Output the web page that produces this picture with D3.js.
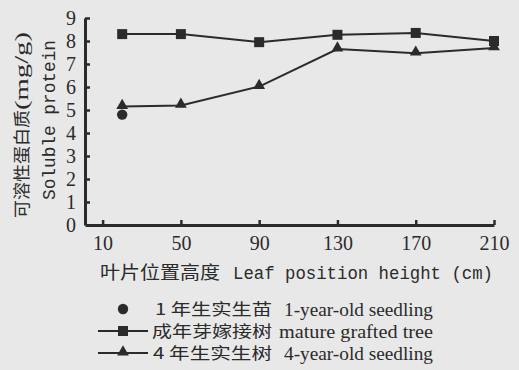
<!DOCTYPE html>
<html><head><meta charset="utf-8">
<script src="https://cdn.jsdelivr.net/npm/d3@7/dist/d3.min.js"></script>
<style>html,body{margin:0;padding:0;background:#e8e8e8;} svg{display:block}</style>
</head><body><svg id="c" width="519" height="370"></svg>
<script>
// ---- data ----
const heights = [20, 50, 90, 130, 170, 210];
const matureGrafted = [8.3, 8.3, 7.95, 8.27, 8.35, 8.0];
const fourYearSeedling = [5.15, 5.2, 6.02, 7.65, 7.47, 7.7];
const oneYearHeights = [20];
const oneYearSeedling = [4.8];
const xTicks = [10, 50, 90, 130, 170, 210];
const yTicks = [0, 1, 2, 3, 4, 5, 6, 7, 8, 9];
const xTitleCN = "叶片位置高度";
const xTitleEN = "Leaf position height (cm)";
const yTitleCN = "可溶性蛋白质";
const yTitleUnit = "(mg/g)";
const yTitleEN = "Soluble protein";
const legendCN = ["1 年生实生苗", "成年芽嫁接树", "4 年生实生树"];
const legendEN = ["1-year-old seedling", "mature grafted tree", "4-year-old seedling"];

// ---- drawing ----
const ink = "#2b2b2b";
const svg = d3.select("#c");
const x = d3.scaleLinear().domain([1, 210]).range([85, 494]);
const y = d3.scaleLinear().domain([0, 9]).range([225, 18]);
const serif = "Liberation Serif";
const mono = "Liberation Mono";
const cjk = "Noto Sans CJK SC";

const gx = svg.append("g").attr("transform", `translate(0,${y(0)})`)
  .call(d3.axisBottom(x).tickValues(xTicks).tickSize(-5).tickSizeOuter(0).tickPadding(11));
const gy = svg.append("g").attr("transform", `translate(${x.range()[0]},0)`)
  .call(d3.axisLeft(y).tickValues(yTicks).tickSize(-5).tickSizeOuter(0).tickPadding(9));
[gx, gy].forEach(g => {
  g.attr("font-family", serif).attr("font-size", 20);
  g.select(".domain").attr("stroke", ink).attr("stroke-width", 3);
  g.selectAll(".tick line").attr("stroke", ink).attr("stroke-width", 2.5);
  g.selectAll(".tick text").attr("fill", ink).attr("font-family", serif).attr("font-size", 20);
});
gy.selectAll(".tick").filter(d => d === 0).select("line").remove();

const line = d3.line().x(d => x(d[0])).y(d => y(d[1]));
const sq = heights.map((h, i) => [h, matureGrafted[i]]);
const tr = heights.map((h, i) => [h, fourYearSeedling[i]]);
const ci = oneYearHeights.map((h, i) => [h, oneYearSeedling[i]]);

[sq, tr].forEach(s => svg.append("path").attr("d", line(s)).attr("fill", "none")
  .attr("stroke", ink).attr("stroke-width", 2));

const symSq = d3.symbol().type(d3.symbolSquare).size(100);
const symTr = d3.symbol().type(d3.symbolTriangle).size(60);
const symCi = d3.symbol().type(d3.symbolCircle).size(85);

svg.selectAll(".ci").data(ci).join("path").attr("d", symCi())
  .attr("transform", d => `translate(${x(d[0])},${y(d[1])})`).attr("fill", ink);
svg.selectAll(".tr").data(tr).join("path").attr("d", symTr())
  .attr("transform", d => `translate(${x(d[0])},${y(d[1]) - 1})`).attr("fill", ink);
svg.selectAll(".sq").data(sq).join("path").attr("d", symSq())
  .attr("transform", d => `translate(${x(d[0])},${y(d[1])})`).attr("fill", ink);

// x title
svg.append("text").attr("x", 100).attr("y", 273).attr("dy", "0.35em")
  .attr("textLength", 120).attr("lengthAdjust", "spacingAndGlyphs")
  .attr("font-family", cjk).attr("font-size", 18).attr("fill", ink).text(xTitleCN);
svg.append("text").attr("x", 233).attr("y", 273).attr("dy", "0.35em")
  .attr("textLength", 260).attr("lengthAdjust", "spacingAndGlyphs")
  .attr("font-family", mono).attr("font-size", 18).attr("fill", ink).text(xTitleEN);

// y titles
const yt1 = svg.append("g").attr("transform", "translate(22,0) rotate(-90)");
yt1.append("text").attr("x", -218).attr("y", 0).attr("dy", "0.35em")
  .attr("textLength", 108).attr("lengthAdjust", "spacingAndGlyphs")
  .attr("font-family", cjk).attr("font-size", 17).attr("fill", ink).text(yTitleCN);
yt1.append("text").attr("x", -110).attr("y", 0).attr("dy", "0.35em")
  .attr("textLength", 78).attr("lengthAdjust", "spacingAndGlyphs")
  .attr("font-family", serif).attr("font-size", 18).attr("fill", ink).text(yTitleUnit);
const yt2 = svg.append("g").attr("transform", "translate(49,0) rotate(-90)");
yt2.append("text").attr("x", -200).attr("y", 0).attr("dy", "0.35em")
  .attr("textLength", 160).attr("lengthAdjust", "spacingAndGlyphs")
  .attr("font-family", mono).attr("font-size", 18).attr("fill", ink).text(yTitleEN);

// legend
const rowsY = [309, 331, 353];
const cnStart = [155, 152, 153];
const enStart = [284, 279, 284];
legendCN.forEach((t, i) => {
  const ry = rowsY[i];
  if (i > 0) svg.append("line").attr("x1", 98).attr("x2", 148).attr("y1", ry).attr("y2", ry)
    .attr("stroke", ink).attr("stroke-width", 2);
  const s = [symCi, symSq, symTr][i];
  svg.append("path").attr("d", s()).attr("transform", `translate(123,${ry - (i === 2 ? 1 : 0)})`).attr("fill", ink);
  svg.append("text").attr("x", cnStart[i]).attr("y", ry).attr("dy", "0.35em")
    .attr("textLength", 272 - cnStart[i]).attr("lengthAdjust", "spacingAndGlyphs")
    .attr("font-family", cjk).attr("font-size", 16).attr("fill", ink).text(t);
  svg.append("text").attr("x", enStart[i]).attr("y", ry).attr("dy", "0.35em")
    .attr("textLength", 433 - enStart[i]).attr("lengthAdjust", "spacingAndGlyphs")
    .attr("font-family", serif).attr("font-size", 19).attr("fill", ink).text(legendEN[i]);
});
</script></body></html>
